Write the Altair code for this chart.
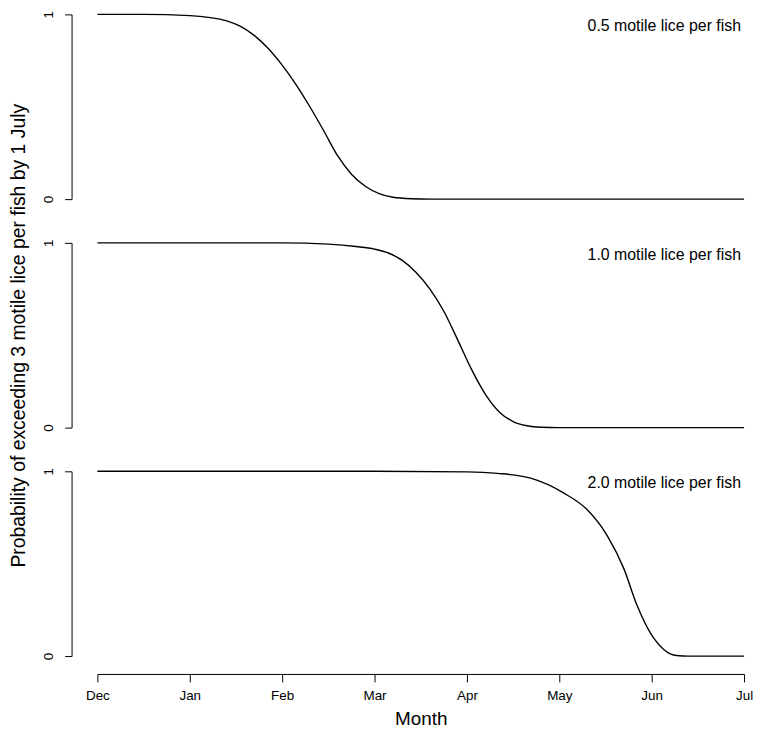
import altair as alt
import pandas as pd

months = ["Dec", "Jan", "Feb", "Mar", "Apr", "May", "Jun", "Jul"]
panel_labels = ["0.5 motile lice per fish", "1.0 motile lice per fish", "2.0 motile lice per fish"]

# month index (0 = 1 Dec, 7 = 1 Jul) and probability
p05_month = [0.0, 0.5, 1.0, 1.2, 1.4, 1.55, 1.7, 1.85, 2.0, 2.15, 2.3, 2.45, 2.6, 2.75, 2.9, 3.05, 3.2, 3.4, 3.6, 4.0, 5.0, 6.0, 7.0]
p05_prob = [1.0, 1.0, 0.993, 0.984, 0.965, 0.935, 0.885, 0.815, 0.725, 0.62, 0.50, 0.37, 0.235, 0.135, 0.07, 0.03, 0.01, 0.002, 0.0, 0.0, 0.0, 0.0, 0.0]

p10_month = [0.0, 1.0, 2.0, 2.5, 2.8, 3.0, 3.15, 3.3, 3.45, 3.6, 3.75, 3.9, 4.05, 4.2, 4.35, 4.5, 4.65, 4.8, 5.0, 6.0, 7.0]
p10_prob = [1.0, 1.0, 1.0, 0.993, 0.98, 0.966, 0.945, 0.905, 0.84, 0.75, 0.63, 0.475, 0.315, 0.18, 0.085, 0.033, 0.01, 0.002, 0.0, 0.0, 0.0]

p20_month = [0.0, 1.0, 2.0, 3.0, 4.0, 4.33, 4.69, 5.05, 5.3, 5.52, 5.7, 5.84, 6.02, 6.13, 6.27, 6.4, 7.0]
p20_prob = [1.0, 1.0, 1.0, 1.0, 0.997, 0.989, 0.963, 0.882, 0.793, 0.651, 0.472, 0.276, 0.098, 0.036, 0.003, 0.0, 0.0]

series = [(p05_month, p05_prob), (p10_month, p10_prob), (p20_month, p20_prob)]

W = 651
H = 186
FONT = "Liberation Sans"

month_expr = "[" + ",".join(f"'{m}'" for m in months) + "][datum.value]"


def panel(i):
    m, p = series[i]
    df = pd.DataFrame({"month": m, "prob": p})
    is_bottom = i == 2
    is_mid = i == 1
    if is_bottom:
        xaxis = alt.Axis(values=list(range(len(months))), labelExpr=month_expr, title="Month",
                         offset=18, tickSize=8, labelPadding=7, labelFontSize=13.5,
                         labelFlush=False,
                         titleFontSize=19, titleFontWeight="normal", titlePadding=7,
                         domainColor="black", tickColor="black", labelColor="black",
                         titleColor="black", grid=False, labelFont=FONT, titleFont=FONT)
    else:
        xaxis = None
    yaxis = alt.Axis(values=[0, 1], format="d", offset=26, tickSize=7, labelPadding=9,
                     labelAngle=-90, labelAlign="center", labelBaseline="bottom",
                     labelFontSize=13.5, grid=False, domainColor="black", tickColor="black",
                     labelColor="black", labelFont=FONT, labelFlush=False,
                     title="Probability of exceeding 3 motile lice per fish by 1 July" if is_mid else None,
                     titleFontSize=19.5, titleFontWeight="normal", titleColor="black",
                     titleFont=FONT, titlePadding=13)
    line = alt.Chart(df).mark_line(color="black", strokeWidth=1.4, interpolate="monotone").encode(
        x=alt.X("month:Q", scale=alt.Scale(domain=[0, 7], nice=False, zero=False), axis=xaxis),
        y=alt.Y("prob:Q", scale=alt.Scale(domain=[0, 1], nice=False), axis=yaxis),
    )
    label = alt.Chart(pd.DataFrame({"t": [panel_labels[i]]})).mark_text(
        align="right", baseline="middle", fontSize=16, font=FONT, color="black"
    ).encode(x=alt.value(W - 3), y=alt.value(12), text="t:N")
    return (line + label).properties(width=W, height=H)


chart = alt.vconcat(panel(0), panel(1), panel(2), spacing=44, bounds="flush").properties(
    padding=0, background="white"
).configure_view(stroke=None)

chart.save("out.html", embed_options={"renderer": "svg", "actions": False})
